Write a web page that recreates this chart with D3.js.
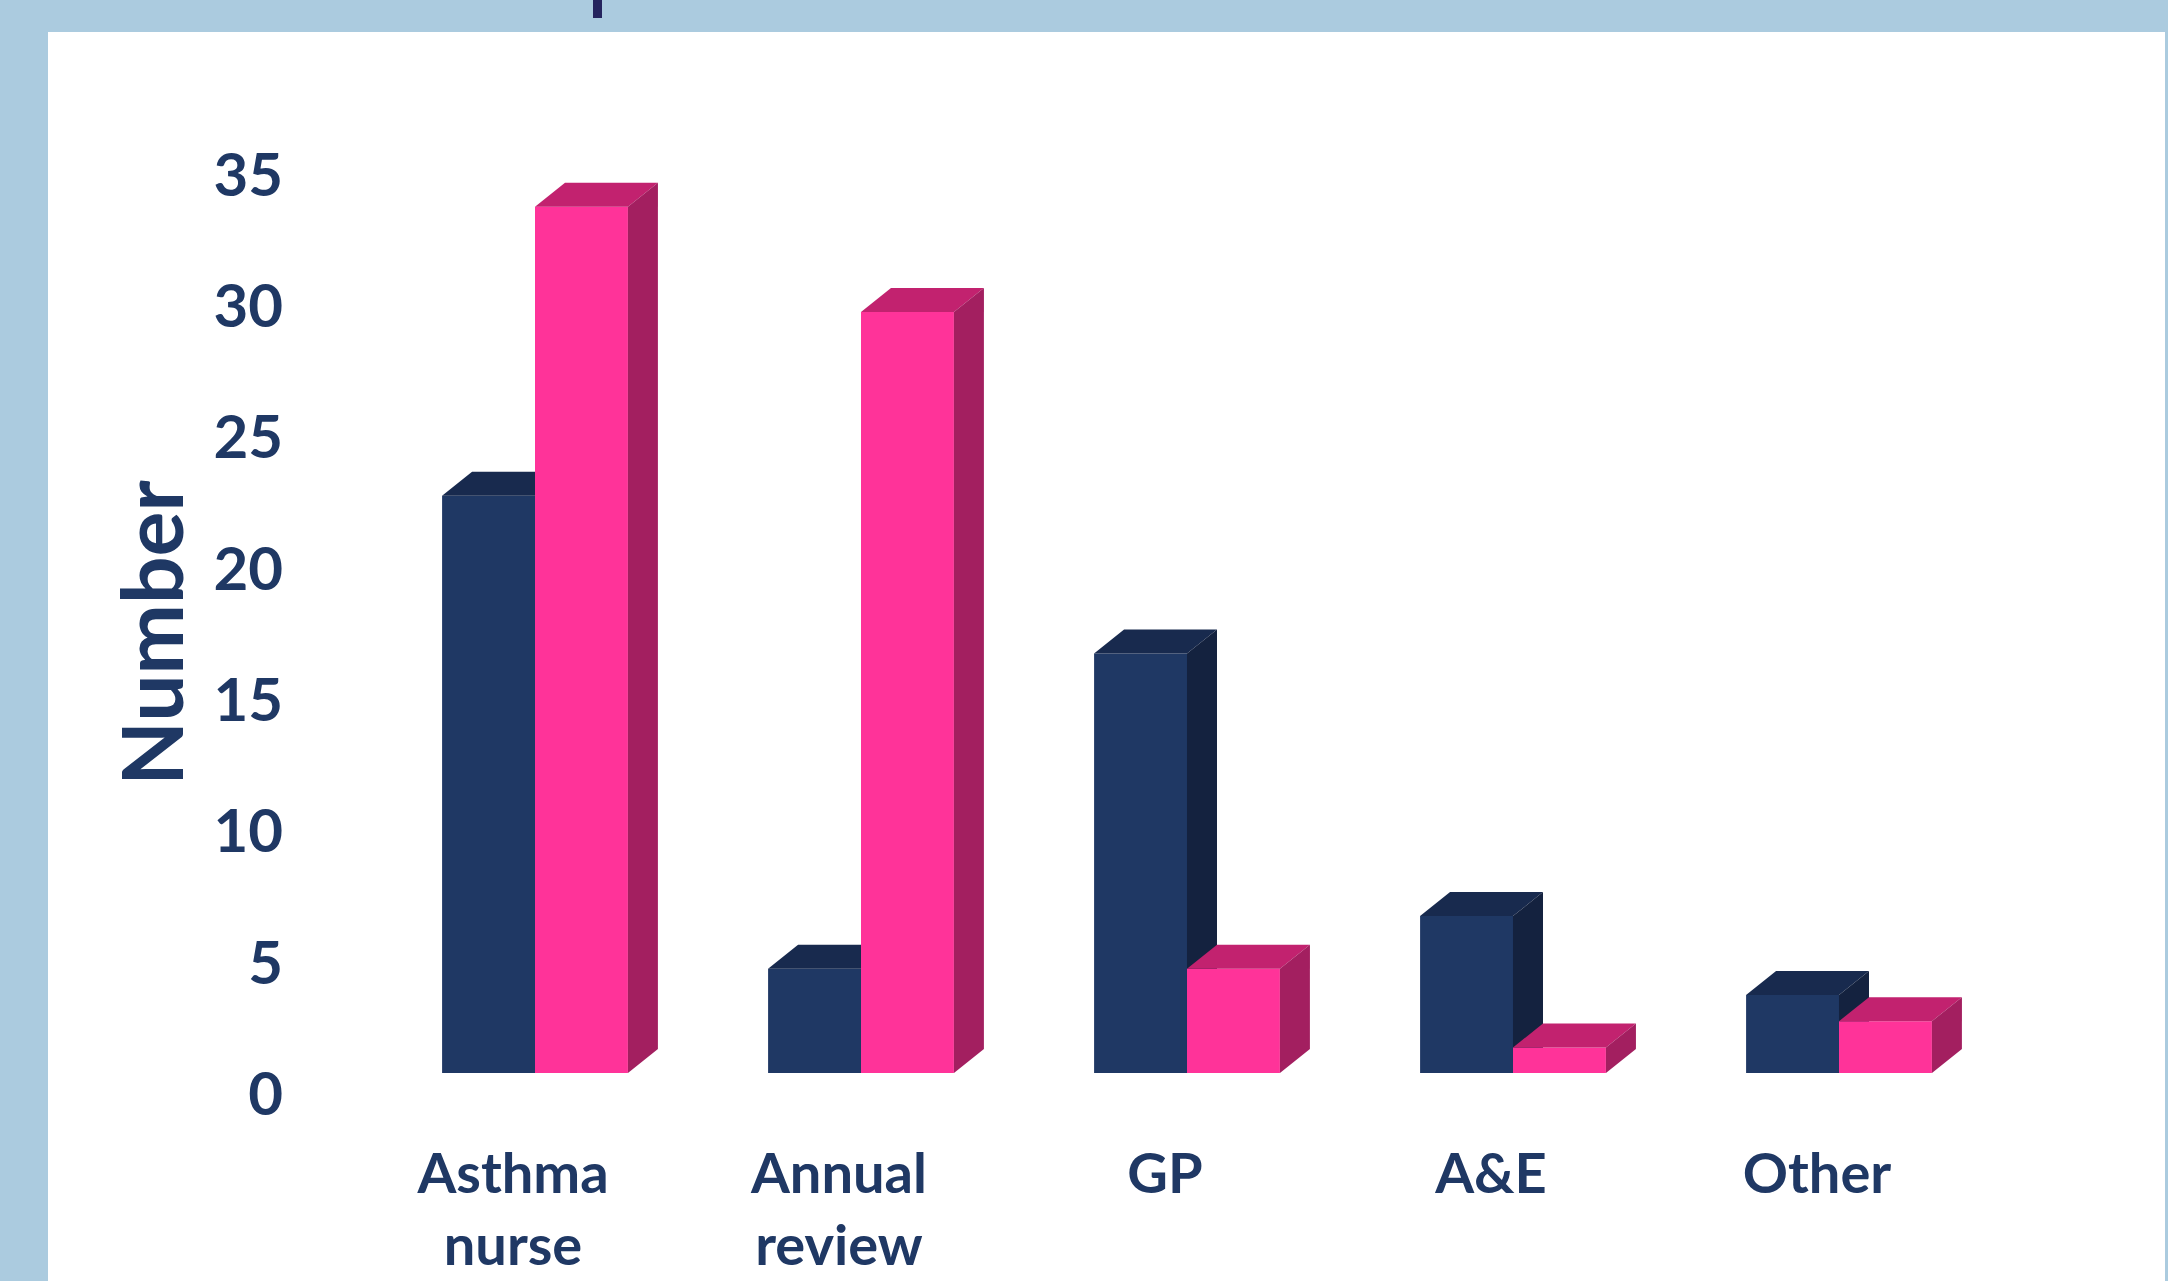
<!DOCTYPE html>
<html>
<head>
<meta charset="utf-8">
<script src="https://cdn.jsdelivr.net/npm/d3@7"></script>
<style>
  body { margin: 0; background: #abcbdf; overflow: hidden; }
  svg { display: block; }
</style>
</head>
<body>
<svg id="chart"></svg>
<script>
// datos
var categories = ["Asthma nurse", "Annual review", "GP", "A&E", "Other"];
var seriesKeys = ["navy", "pink"];
var navyValues = [23, 5, 17, 7, 4];
var pinkValues = [34, 30, 5, 2, 3];
var yTicks = [0, 5, 10, 15, 20, 25, 30, 35];
var yTitle = "Number";

var width = 2168, height = 1281;
var floorY = 1073;      // borde frontal del piso
var depth = { dx: 30, dy: 24 };
var font = "Lato, 'Open Sans', sans-serif";
var textColor = "#1f3864";

var colors = {
  navy: { front: "#1f3864", top: "#182a4e", side: "#14223f" },
  pink: { front: "#ff3399", top: "#c2226f", side: "#a31f60" }
};

var svg = d3.select("#chart")
  .attr("width", width)
  .attr("height", height);

// fondo azul y panel blanco
svg.append("rect")
  .attr("width", width).attr("height", height)
  .attr("fill", "#abcbdf");
svg.append("rect")
  .attr("x", 48).attr("y", 32)
  .attr("width", 2117).attr("height", height - 32)
  .attr("fill", "#ffffff");
// resto del titulo cortado arriba
svg.append("rect")
  .attr("x", 593).attr("y", 0)
  .attr("width", 9).attr("height", 18)
  .attr("fill", "#25245e");

var rows = categories.map(function (c, i) {
  return { cat: c, navy: navyValues[i], pink: pinkValues[i] };
});

var x0 = d3.scaleBand()
  .domain(categories)
  .range([372, 2002])
  .paddingInner(0.43)
  .paddingOuter(0.215);

var x1 = d3.scaleBand()
  .domain(seriesKeys)
  .range([0, x0.bandwidth()]);

var y = d3.scaleLinear()
  .domain([0, 35])
  .range([1100, 1100 - 35 * 26.27]);

// eje Y: solo etiquetas
var yAxis = d3.axisLeft(y)
  .tickValues(yTicks)
  .tickSize(0)
  .tickPadding(0);

var gy = svg.append("g")
  .attr("class", "y axis")
  .attr("transform", "translate(283,-7)")
  .call(yAxis);
gy.select(".domain").remove();
gy.selectAll("text")
  .attr("dy", "0.36em")
  .attr("fill", textColor)
  .style("font-family", font)
  .style("font-size", "60px")
  .style("font-weight", "bold");

svg.append("text")
  .attr("transform", "translate(183,633) rotate(-90)")
  .attr("text-anchor", "middle")
  .attr("fill", textColor)
  .style("font-family", font)
  .style("font-size", "84px")
  .style("font-weight", "bold")
  .text(yTitle);

// barras 3D
function barPaths(x, w, v) {
  var yt = y(v);
  var dx = depth.dx, dy = depth.dy;
  return {
    front: [[x, yt], [x + w, yt], [x + w, floorY], [x, floorY]],
    top: [[x, yt], [x + dx, yt - dy], [x + w + dx, yt - dy], [x + w, yt]],
    side: [[x + w, yt], [x + w + dx, yt - dy], [x + w + dx, floorY - dy], [x + w, floorY]]
  };
}

var line = d3.line();

var groups = svg.append("g").attr("class", "bars")
  .selectAll("g")
  .data(rows)
  .enter().append("g")
  .attr("transform", function (d) { return "translate(" + x0(d.cat) + ",0)"; });

seriesKeys.forEach(function (key) {
  groups.each(function (d) {
    var g = d3.select(this);
    var p = barPaths(x1(key), x1.bandwidth(), d[key]);
    ["front", "top", "side"].forEach(function (face) {
      g.append("path")
        .attr("d", line(p[face]) + "Z")
        .attr("fill", colors[key][face]);
    });
  });
});

// etiquetas del eje X
var xLabels = svg.append("g").attr("class", "x labels");
rows.forEach(function (d) {
  var cx = x0(d.cat) + x0.bandwidth() / 2 - 22;
  var t = xLabels.append("text")
    .attr("x", cx)
    .attr("y", 1193)
    .attr("text-anchor", "middle")
    .attr("fill", textColor)
    .style("font-family", font)
    .style("font-size", "56px")
    .style("font-weight", "bold");
  d.cat.split(" ").forEach(function (w, i) {
    t.append("tspan")
      .attr("x", cx)
      .attr("dy", i === 0 ? 0 : 72)
      .text(w);
  });
});
</script>
</body>
</html>
